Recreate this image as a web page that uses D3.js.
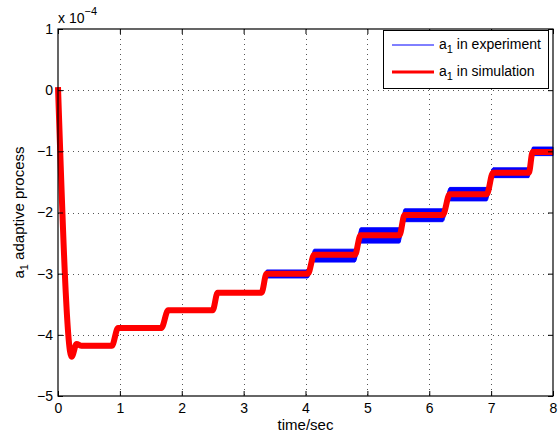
<!DOCTYPE html>
<html lang="en">
<head>
    <meta charset="utf-8">
    <title>a1 adaptive process</title>
    <script src="https://d3js.org/d3.v7.min.js"></script>
</head>
<style>
    body {
        margin: 0;
        background: #ffffff;
    }
    svg {
        display: block;
        font-family: "Liberation Sans", Arial, Helvetica, sans-serif;
    }
</style>
<body>
<div id="container"></div>

<script type="text/javascript">
    // values (y in units of 1e-4)
    var simTime = [0, 0.22, 0.30, 0.38, 0.87, 0.97, 1.67, 1.78, 2.50, 2.58, 3.29, 3.37, 4.04, 4.14,
        4.80, 4.89, 5.52, 5.60, 6.22, 6.33, 6.93, 7.03, 7.61, 7.67, 8.0];
    var simValue = [0.05, -4.36, -4.15, -4.18, -4.18, -3.89, -3.89, -3.60, -3.60, -3.31, -3.31, -3.00, -3.00, -2.69,
        -2.69, -2.37, -2.37, -2.04, -2.04, -1.70, -1.70, -1.35, -1.35, -1.01, -1.01];

    // experiment: noisy band around the simulation, upper and lower edge
    var expUpper = [0.05, -4.33, -4.13, -4.15, -4.15, -3.86, -3.86, -3.57, -3.57, -3.29, -3.29, -2.94, -2.94, -2.60,
        -2.60, -2.25, -2.25, -1.94, -1.94, -1.59, -1.59, -1.27, -1.27, -0.93, -0.93];
    var expLower = [0.0, -4.38, -4.17, -4.21, -4.21, -3.91, -3.91, -3.62, -3.62, -3.33, -3.33, -3.07, -3.07, -2.81,
        -2.81, -2.50, -2.50, -2.15, -2.15, -1.81, -1.81, -1.43, -1.43, -1.07, -1.07];

    var xTicks = [0, 1, 2, 3, 4, 5, 6, 7, 8];
    var yTicks = [-5, -4, -3, -2, -1, 0, 1];
    var legendLabels = ["in experiment", "in simulation"];

    var width = 560;
    var height = 434;
    var pLeft = 58, pRight = 553, pTop = 29, pBottom = 396;
    var font = "14px";

    var x = d3.scaleLinear().domain([0, 8]).range([pLeft, pRight]);
    var y = d3.scaleLinear().domain([-5, 1]).range([pBottom, pTop]);

    var svg = d3.select("div#container")
        .append("svg")
        .attr("width", width)
        .attr("height", height)
        .style("background-color", "white");

    // dotted grid
    var grid = svg.append("g")
        .attr("stroke", "#555")
        .attr("stroke-width", 1)
        .attr("stroke-dasharray", "1,4");
    grid.selectAll(".gx")
        .data(xTicks.slice(1, -1))
        .enter().append("line")
        .attr("x1", function (d) { return Math.round(x(d)) + 0.5; })
        .attr("x2", function (d) { return Math.round(x(d)) + 0.5; })
        .attr("y1", pTop)
        .attr("y2", pBottom);
    grid.selectAll(".gy")
        .data(yTicks.slice(1, -1))
        .enter().append("line")
        .attr("y1", function (d) { return Math.round(y(d)) + 0.5; })
        .attr("y2", function (d) { return Math.round(y(d)) + 0.5; })
        .attr("x1", pLeft)
        .attr("x2", pRight);

    // experiment band
    var band = d3.area()
        .x(function (d, i) { return x(simTime[i]); })
        .y0(function (d, i) { return y(expLower[i]); })
        .y1(function (d, i) { return y(expUpper[i]); })
        .curve(d3.curveMonotoneX);
    svg.append("path")
        .datum(simTime)
        .attr("d", band)
        .attr("fill", "#0000ff")
        .attr("stroke", "#0000ff")
        .attr("stroke-width", 1);

    // simulation line
    var line = d3.line()
        .x(function (d, i) { return x(simTime[i]); })
        .y(function (d, i) { return y(simValue[i]); })
        .curve(d3.curveMonotoneX);
    svg.append("path")
        .datum(simTime)
        .attr("d", line)
        .attr("fill", "none")
        .attr("stroke", "#ff0000")
        .attr("stroke-width", 6)
        .attr("stroke-linejoin", "round");

    // axes, ticks point inward
    function styleAxis(g) {
        g.select(".domain").remove();
        g.selectAll(".tick line").attr("stroke", "#000");
        g.selectAll("text")
            .attr("fill", "#000")
            .style("font-size", font)
            .style("font-family", "'Liberation Sans', Arial, Helvetica, sans-serif");
    }

    svg.append("g")
        .attr("transform", "translate(0," + pBottom + ")")
        .call(d3.axisBottom(x).tickValues(xTicks).tickFormat(d3.format("d"))
            .tickSizeInner(-5).tickSizeOuter(0).tickPadding(7))
        .call(styleAxis);
    svg.append("g")
        .attr("transform", "translate(0," + pTop + ")")
        .call(d3.axisTop(x).tickValues(xTicks).tickSizeInner(-5).tickSizeOuter(0).tickFormat(""))
        .call(styleAxis);
    svg.append("g")
        .attr("transform", "translate(" + pLeft + ",0)")
        .call(d3.axisLeft(y).tickValues(yTicks).tickFormat(d3.format("d"))
            .tickSizeInner(-5).tickSizeOuter(0).tickPadding(5))
        .call(styleAxis);
    svg.append("g")
        .attr("transform", "translate(" + pRight + ",0)")
        .call(d3.axisRight(y).tickValues(yTicks).tickSizeInner(-5).tickSizeOuter(0).tickFormat(""))
        .call(styleAxis);

    // box
    svg.append("rect")
        .attr("x", pLeft)
        .attr("y", pTop)
        .attr("width", pRight - pLeft)
        .attr("height", pBottom - pTop)
        .attr("fill", "none")
        .attr("stroke", "#000")
        .attr("stroke-width", 1.2);

    // exponent label
    var expo = svg.append("text")
        .attr("x", pLeft)
        .attr("y", 23)
        .style("font-size", font);
    expo.append("tspan").text("x 10");
    expo.append("tspan").attr("dy", -8).style("font-size", "11px").text("\u22124");

    // axis titles
    svg.append("text")
        .attr("x", (pLeft + pRight) / 2)
        .attr("y", 430)
        .attr("text-anchor", "middle")
        .style("font-size", "15px")
        .text("time/sec");

    var ylab = svg.append("text")
        .attr("transform", "translate(24," + ((pTop + pBottom) / 2) + ") rotate(-90)")
        .attr("text-anchor", "middle")
        .style("font-size", "15px");
    ylab.append("tspan").text("a");
    ylab.append("tspan").attr("dy", 4).style("font-size", "11px").text("1");
    ylab.append("tspan").attr("dy", -4).text(" adaptive process");

    // legend
    var legend = svg.append("g");
    legend.append("rect")
        .attr("x", 383.5)
        .attr("y", 30.5)
        .attr("width", 165)
        .attr("height", 58)
        .attr("fill", "white")
        .attr("stroke", "#000")
        .attr("stroke-width", 1);

    var legendColors = ["#0000ff", "#ff0000"];
    var legendWidths = [1, 3];
    legendLabels.forEach(function (label, i) {
        var ly = 45 + i * 27;
        legend.append("line")
            .attr("x1", 392)
            .attr("x2", 434)
            .attr("y1", ly)
            .attr("y2", ly)
            .attr("stroke", legendColors[i])
            .attr("stroke-width", legendWidths[i]);
        var t = legend.append("text")
            .attr("x", 439)
            .attr("y", ly + 4)
            .style("font-size", font);
        t.append("tspan").text("a");
        t.append("tspan").attr("dy", 4).style("font-size", "11px").text("1");
        t.append("tspan").attr("dy", -4).text(" " + label);
    });
</script>
</body>
</html>
